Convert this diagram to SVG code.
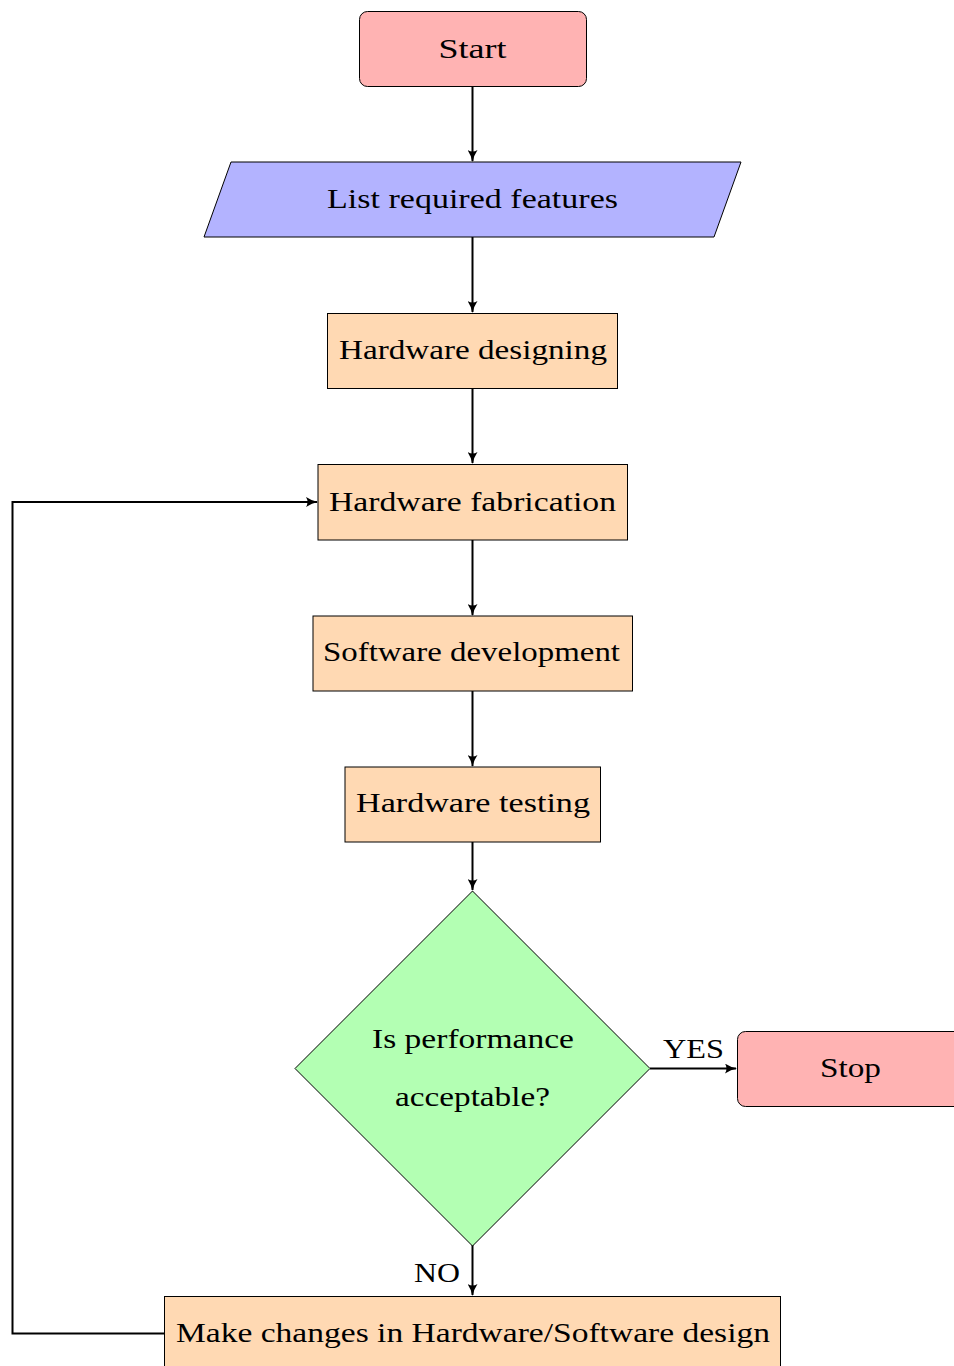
<svg xmlns="http://www.w3.org/2000/svg" width="954" height="1366" viewBox="0 0 954 1366">
<style>
.t{font-family:"Liberation Serif","DejaVu Serif",serif;font-size:28px;fill:#000;text-anchor:middle}
.red{fill:#ffb3b3;stroke:#000;stroke-width:1}
.blue{fill:#b3b3ff;stroke:#000;stroke-width:1}
.orange{fill:#ffd9b3;stroke:#000;stroke-width:1}
.green{fill:#b3ffb3;stroke:#000;stroke-width:1}
.c{fill:none;stroke:#000;stroke-width:2;marker-end:url(#ah)}
</style>
<defs>
<marker id="ah" markerWidth="12" markerHeight="10" refX="11" refY="5" orient="auto" markerUnits="userSpaceOnUse" viewBox="0 0 12 10">
<path d="M0,0 Q6,4 12,5 Q6,6 0,10 Q3,5 0,0 Z" fill="#000"/>
</marker>
</defs>
<g id="connectors">
<line class="c" x1="472.5" y1="86" x2="472.5" y2="161"/>
<line class="c" x1="472.5" y1="237" x2="472.5" y2="312"/>
<line class="c" x1="472.5" y1="388" x2="472.5" y2="463"/>
<line class="c" x1="472.5" y1="540" x2="472.5" y2="615"/>
<line class="c" x1="472.5" y1="691" x2="472.5" y2="766"/>
<line class="c" x1="472.5" y1="842" x2="472.5" y2="890"/>
<line class="c" x1="650" y1="1068.5" x2="736" y2="1068.5"/>
<line class="c" x1="472.5" y1="1245" x2="472.5" y2="1295"/>
<polyline class="c" points="164,1333.5 12.5,1333.5 12.5,502 317,502"/>
<text class="t" x="693.5" y="1058" textLength="61" lengthAdjust="spacingAndGlyphs">YES</text>
<text class="t" x="437" y="1282" textLength="46" lengthAdjust="spacingAndGlyphs">NO</text>
</g>
<g id="start">
<rect class="red" x="359.5" y="11.5" width="227" height="75" rx="8"/>
<text class="t" x="472.5" y="58" textLength="68" lengthAdjust="spacingAndGlyphs">Start</text>
</g>
<g id="features">
<polygon class="blue" points="231,162 741,162 714,237 204,237"/>
<text class="t" x="472.5" y="208" textLength="291" lengthAdjust="spacingAndGlyphs">List required features</text>
</g>
<g id="hwdesign">
<rect class="orange" x="327.5" y="313.5" width="290" height="75"/>
<text class="t" x="473" y="359" textLength="268" lengthAdjust="spacingAndGlyphs">Hardware designing</text>
</g>
<g id="hwfab">
<rect class="orange" x="318" y="464.5" width="309.5" height="75.5"/>
<text class="t" x="472.5" y="511" textLength="287" lengthAdjust="spacingAndGlyphs">Hardware fabrication</text>
</g>
<g id="swdev">
<rect class="orange" x="313" y="616" width="319.5" height="75"/>
<text class="t" x="471.5" y="661" textLength="297" lengthAdjust="spacingAndGlyphs">Software development</text>
</g>
<g id="hwtest">
<rect class="orange" x="345" y="767" width="255.5" height="75"/>
<text class="t" x="473" y="812" textLength="234" lengthAdjust="spacingAndGlyphs">Hardware testing</text>
</g>
<g id="decision">
<polygon class="green" points="472.5,891 650,1068.5 472.5,1246 295,1068.5"/>
<text class="t" x="473" y="1048" textLength="202" lengthAdjust="spacingAndGlyphs">Is performance</text>
<text class="t" x="472.5" y="1106" textLength="155" lengthAdjust="spacingAndGlyphs">acceptable?</text>
</g>
<g id="stop">
<rect class="red" x="737.5" y="1031.5" width="227" height="75" rx="8"/>
<text class="t" x="850.5" y="1077" textLength="61" lengthAdjust="spacingAndGlyphs">Stop</text>
</g>
<g id="changes">
<rect class="orange" x="164.5" y="1296.5" width="616" height="75"/>
<text class="t" x="473" y="1342" textLength="594" lengthAdjust="spacingAndGlyphs">Make changes in Hardware/Software design</text>
</g>
</svg>
